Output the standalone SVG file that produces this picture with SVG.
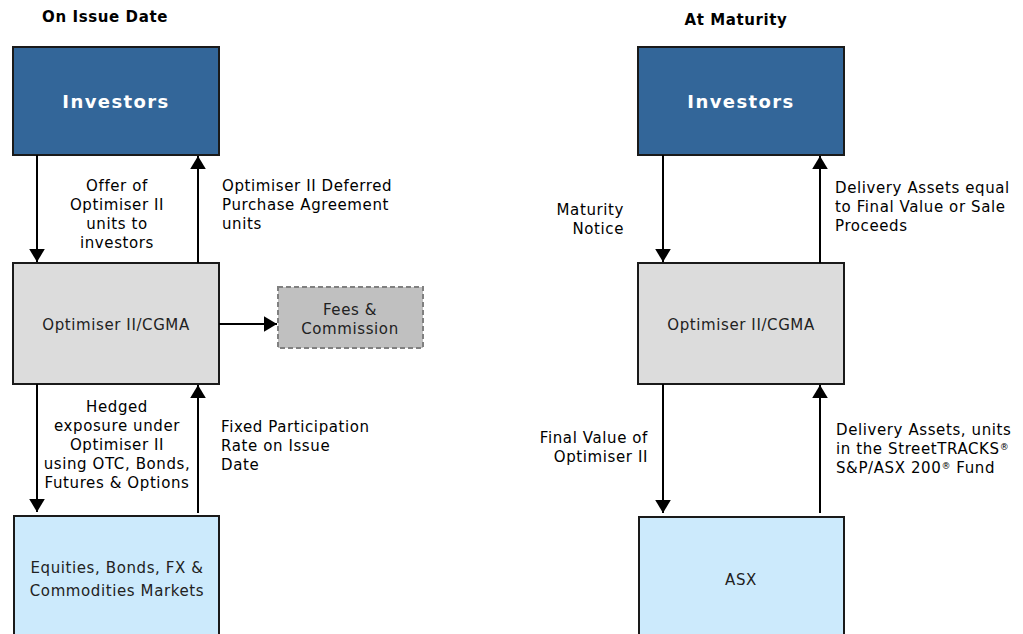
<svg xmlns="http://www.w3.org/2000/svg" width="1023" height="634" viewBox="0 0 1023 634">
<style>
.title{font-family:"DejaVu Sans",Verdana,sans-serif;font-weight:bold;font-size:15px;letter-spacing:0.6px;fill:#000;text-anchor:middle}
.inv{fill:#336699;stroke:#1a1a1a;stroke-width:2}
.opt{fill:#dcdcdc;stroke:#1a1a1a;stroke-width:2}
.mkt{fill:#cceafc;stroke:#1a1a1a;stroke-width:2}
.fee{fill:#c0c0c0;stroke:#808080;stroke-width:2;stroke-dasharray:5,3}
.invt{font-family:"DejaVu Sans",Verdana,sans-serif;font-weight:bold;font-size:18px;fill:#fff;text-anchor:middle;letter-spacing:1.4px}
.bt{font-family:"DejaVu Sans",Verdana,sans-serif;font-size:15px;letter-spacing:0.6px;fill:#222;text-anchor:middle}
.lb{font-family:"DejaVu Sans",Verdana,sans-serif;font-size:15px;letter-spacing:0.6px;fill:#000}
.c{text-anchor:middle}
.e{text-anchor:end}
.conn line{stroke:#000;stroke-width:2}
</style>
<defs>
<marker id="ah" viewBox="0 0 10 12" refX="10" refY="6" markerWidth="6.5" markerHeight="8" orient="auto" markerUnits="strokeWidth">
<path d="M0,0 L10,6 L0,12 z" fill="#000"/>
</marker>
</defs>
<text class="title" x="105" y="22">On Issue Date</text>
<text class="title" x="736" y="25">At Maturity</text>

<g id="investors-left"><rect class="inv" x="13" y="47" width="206" height="108"/><text class="invt" x="116" y="108">Investors</text></g>
<g id="optimiser-left"><rect class="opt" x="13" y="263" width="206" height="121"/><text class="bt" x="116" y="330">Optimiser II/CGMA</text></g>
<g id="fees"><rect class="fee" x="278" y="287" width="145" height="61"/><text class="bt" x="350" y="315">Fees &amp;</text><text class="bt" x="350" y="334">Commission</text></g>
<g id="markets"><rect class="mkt" x="14" y="516" width="205" height="130"/><text class="bt" x="117" y="573">Equities, Bonds, FX &amp;</text><text class="bt" x="117" y="596">Commodities Markets</text></g>

<g id="investors-right"><rect class="inv" x="638" y="47" width="206" height="108"/><text class="invt" x="741" y="108">Investors</text></g>
<g id="optimiser-right"><rect class="opt" x="638" y="263" width="206" height="121"/><text class="bt" x="741" y="330">Optimiser II/CGMA</text></g>
<g id="asx"><rect class="mkt" x="639" y="517" width="205" height="130"/><text class="bt" x="741" y="585">ASX</text></g>

<g class="conn" id="connectors">
<line x1="37" y1="155" x2="37" y2="262" marker-end="url(#ah)"/>
<line x1="198" y1="263" x2="198" y2="156" marker-end="url(#ah)"/>
<line x1="219" y1="324" x2="277" y2="324" marker-end="url(#ah)"/>
<line x1="37" y1="384" x2="37" y2="512" marker-end="url(#ah)"/>
<line x1="198" y1="513" x2="198" y2="385" marker-end="url(#ah)"/>
<line x1="663" y1="155" x2="663" y2="262" marker-end="url(#ah)"/>
<line x1="820" y1="263" x2="820" y2="156" marker-end="url(#ah)"/>
<line x1="663" y1="384" x2="663" y2="513" marker-end="url(#ah)"/>
<line x1="820" y1="513" x2="820" y2="385" marker-end="url(#ah)"/>
</g>

<g id="labels">
<text class="lb c" x="117" y="191">Offer of</text>
<text class="lb c" x="117" y="210">Optimiser II</text>
<text class="lb c" x="117" y="229">units to</text>
<text class="lb c" x="117" y="248">investors</text>
<text class="lb" x="222" y="191">Optimiser II Deferred</text>
<text class="lb" x="222" y="210">Purchase Agreement</text>
<text class="lb" x="222" y="229">units</text>
<text class="lb c" x="117" y="412">Hedged</text>
<text class="lb c" x="117" y="431">exposure under</text>
<text class="lb c" x="117" y="450">Optimiser II</text>
<text class="lb c" x="117" y="469">using OTC, Bonds,</text>
<text class="lb c" x="117" y="488">Futures &amp; Options</text>
<text class="lb" x="221" y="432">Fixed Participation</text>
<text class="lb" x="221" y="451">Rate on Issue</text>
<text class="lb" x="221" y="470">Date</text>
<text class="lb e" x="624" y="215">Maturity</text>
<text class="lb e" x="624" y="234">Notice</text>
<text class="lb" x="835" y="193">Delivery Assets equal</text>
<text class="lb" x="835" y="212">to Final Value or Sale</text>
<text class="lb" x="835" y="231">Proceeds</text>
<text class="lb e" x="648" y="443">Final Value of</text>
<text class="lb e" x="648" y="462">Optimiser II</text>
<text class="lb" x="836" y="435">Delivery Assets, units</text>
<text class="lb" x="836" y="454">in the StreetTRACKS<tspan font-size="9" dy="-4">®</tspan></text>
<text class="lb" x="836" y="473">S&amp;P/ASX 200<tspan font-size="9" dy="-4">®</tspan><tspan dy="4"> Fund</tspan></text>
</g>
</svg>
